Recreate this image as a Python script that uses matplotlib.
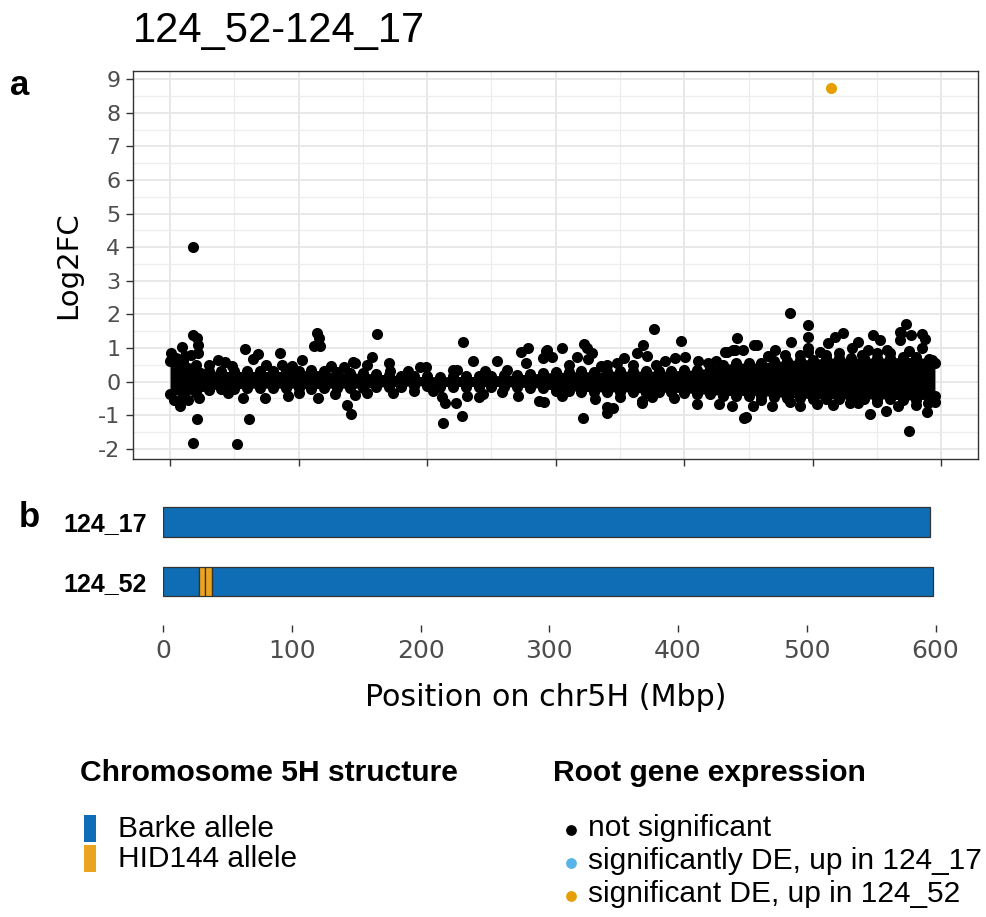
import numpy as np
import matplotlib
matplotlib.use("Agg")
import matplotlib.pyplot as plt
from matplotlib.patches import Rectangle

plt.rcParams['font.family'] = ['DejaVu Sans']

# ---------------------------------------------------------
# data
# ---------------------------------------------------------
# dense core of non-significant genes: upper / lower edge (point centres)
band_pos = [0, 10, 20, 30, 40, 50, 60, 70, 80, 90, 100, 110, 120, 130, 140,
            150, 160, 170, 180, 190, 200, 210, 220, 230, 240, 250, 260, 270,
            280, 290, 300, 310, 320, 330, 340, 350, 360, 370, 380, 390, 400,
            410, 420, 430, 440, 450, 460, 470, 480, 490, 500, 510, 520, 530,
            540, 550, 560, 570, 580, 590, 595]
band_hi = [0.6, 0.62, 0.5, 0.32, 0.3, 0.3, 0.3, 0.3, 0.3, 0.3, 0.3, 0.35,
           0.3, 0.28, 0.25, 0.25, 0.22, 0.2, 0.17, 0.15, 0.15, 0.14, 0.15,
           0.15, 0.15, 0.17, 0.18, 0.2, 0.22, 0.25, 0.27, 0.28, 0.3, 0.28,
           0.3, 0.32, 0.3, 0.32, 0.3, 0.32, 0.33, 0.35, 0.4, 0.5, 0.55, 0.55,
           0.55, 0.6, 0.62, 0.65, 0.65, 0.7, 0.7, 0.7, 0.7, 0.7, 0.7, 0.72,
           0.72, 0.68, 0.55]
band_lo = [-0.38, -0.42, -0.35, -0.25, -0.22, -0.22, -0.2, -0.2, -0.2, -0.2,
           -0.2, -0.22, -0.2, -0.2, -0.2, -0.2, -0.17, -0.15, -0.15, -0.13,
           -0.13, -0.15, -0.15, -0.15, -0.15, -0.15, -0.15, -0.17, -0.18,
           -0.2, -0.27, -0.27, -0.3, -0.3, -0.32, -0.3, -0.32, -0.35, -0.32,
           -0.32, -0.33, -0.37, -0.38, -0.42, -0.42, -0.42, -0.42, -0.45,
           -0.48, -0.48, -0.52, -0.52, -0.52, -0.52, -0.52, -0.52, -0.52,
           -0.55, -0.55, -0.52, -0.42]

# scattered non-significant genes outside the core
ns_pos = [18.1, 18.1, 20.7, 21.5, 9.1, 22.0, 0.8, 5, 12, 16,
          58.3, 68.2, 64.8, 85.6, 102.4, 114.1, 115.5, 112.3, 116.7, 37.6,
          42.8, 86.9, 142.6, 30, 48, 75, 95, 125, 135,
          7.8, 22.8, 20.7, 18.1, 51.9, 61.2, 57, 73.9, 92, 115.4,
          137.4, 140.8, 3.4, 14.3, 45, 100, 128,
          161.3, 143.9, 156.9, 152.9, 170.7, 171.2, 194.5, 199.1, 220.4, 223.5,
          228.2, 235.4, 254.1, 272.8, 278.7, 277, 292.5, 290.4, 185, 245, 262,
          144, 152.9, 173.7, 204.3, 211.3, 213.9, 212.1, 222.5, 226.9, 231,
          240, 243.5, 271, 287.3, 291, 190, 258,
          376.8, 397.5, 440.8, 305.2, 322.3, 324.6, 328.5, 316.4, 324.9, 368.2,
          363, 370.8, 353.5, 385, 392.8, 400.6, 410.9, 418.7, 433, 438.2,
          293, 296.9, 340.2, 348, 310, 335, 360, 378, 425,
          321.5, 340.2, 340.2, 344.7, 330.6, 366.9, 366.9, 409.7, 427.1, 437.4,
          446.8, 350, 375, 392, 305,
          482.3, 496.6, 496.6, 572.3, 568.7, 576.4, 584.7, 587.3, 523.4, 516.9,
          546.6, 552.3, 535.4, 512.1, 482.8, 454.3, 456.9, 446, 470.6, 496,
          496, 505.6, 530.3, 567.9, 592.5, 543, 560, 431.7, 439.5, 567.9,
          465, 478, 490, 520, 550, 575, 585, 510, 538, 558,
          448.1, 453.3, 468.5, 482.3, 490.1, 503.1, 516, 544.5, 557, 566.6,
          575.1, 588.6, 589.4, 529, 460, 535, 550, 580, 595]
ns_val = [4.01, 1.38, 1.29, 1.09, 1.02, 0.86, 0.84, 0.7, 0.75, 0.8,
          0.97, 0.82, 0.66, 0.86, 0.64, 1.43, 1.29, 1.06, 1.06, 0.64,
          0.59, 0.49, 0.59, 0.5, 0.45, 0.5, 0.45, 0.45, 0.42,
          -0.73, -0.48, -1.11, -1.84, -1.86, -1.13, -0.50, -0.48, -0.43, -0.50,
          -0.70, -0.97, -0.55, -0.55, -0.35, -0.35, -0.38,
          1.41, 0.56, 0.72, 0.49, 0.56, 0.31, 0.42, 0.42, 0.34, 0.34,
          1.17, 0.61, 0.62, 0.89, 0.99, 0.56, 0.92, 0.69, 0.3, 0.3, 0.35,
          -0.40, -0.33, -0.33, -0.27, -0.45, -0.65, -1.23, -0.63, -1.03, -0.43,
          -0.45, -0.37, -0.43, -0.57, -0.60, -0.28, -0.3,
          1.56, 1.21, 1.30, 1.01, 1.11, 0.99, 0.84, 0.72, 0.66, 1.09,
          0.84, 0.76, 0.71, 0.61, 0.69, 0.74, 0.61, 0.54, 0.89, 0.94,
          0.94, 0.74, 0.49, 0.54, 0.5, 0.45, 0.5, 0.5, 0.6,
          -1.08, -0.75, -0.95, -0.80, -0.52, -0.58, -0.65, -0.68, -0.67, -0.73,
          -1.08, -0.45, -0.45, -0.48, -0.42,
          2.03, 1.68, 1.33, 1.71, 1.43, 1.38, 1.41, 1.26, 1.43, 1.31,
          1.38, 1.24, 1.18, 1.15, 1.18, 1.09, 1.09, 0.94, 0.94, 0.99,
          0.89, 0.89, 0.99, 1.24, 0.64, 0.94, 0.84, 0.89, 0.94, 1.48,
          0.75, 0.8, 0.8, 0.85, 0.85, 0.9, 1.0, 0.8, 0.8, 0.95,
          -1.07, -0.73, -0.73, -0.60, -0.73, -0.67, -0.70, -0.98, -0.88, -0.73,
          -1.46, -0.90, -0.65, -0.65, -0.55, -0.65, -0.6, -0.7, -0.6]

# significant DE, up in 124_52
up52_pos = [514]
up52_val = [8.74]

# chromosome 5H structure (Mbp)
genotypes = ['124_17', '124_52']
seg_geno = ['124_17', '124_52', '124_52', '124_52', '124_52']
seg_start = [0, 0, 27.5, 32.1, 37.8]
seg_end = [595.7, 27.5, 32.1, 37.8, 598]
seg_allele = ['Barke', 'Barke', 'HID144', 'HID144', 'Barke']

allele_colors = {'Barke': '#0E6DB4', 'HID144': '#EBA41F'}
expr_colors = {'not significant': 'black',
               'significantly DE, up in 124_17': '#56B4E9',
               'significant DE, up in 124_52': '#E69F00'}

W, H = 987, 917
fig = plt.figure(figsize=(W / 100, H / 100), dpi=100)

def box(l, t, r, b):
    return [l / W, 1 - b / H, (r - l) / W, (b - t) / H]

PT = 64  # point size (pt^2)

# ---------------------------------------------------------
# a) Log2FC along chromosome
# ---------------------------------------------------------
ax = fig.add_axes(box(133, 70.7, 978, 459.3))
ax.set_xlim(-28.8, 628.5)
ax.set_ylim(-2.315, 9.25)
ax.set_xticks(range(0, 601, 100))
ax.set_xticks(range(50, 601, 100), minor=True)
ax.set_yticks(range(-2, 10))
ax.set_yticks(np.arange(-1.5, 9.1, 1.0), minor=True)
ax.set_xticklabels([])
ax.set_yticklabels([str(v) for v in range(-2, 10)])
ax.grid(which='major', color='#E6E6E6', lw=1.3, zorder=0)
ax.grid(which='minor', color='#EDEDED', lw=0.9, zorder=0)
ax.set_axisbelow(True)
ax.tick_params(which='major', length=5, width=1, color='#333333',
               labelsize=16, labelcolor='#4D4D4D', pad=4)
ax.tick_params(which='minor', length=0)
for sp in ax.spines.values():
    sp.set_color('#333333')
    sp.set_linewidth(1.0)

ax.fill_between(band_pos, band_lo, band_hi, color='black', lw=0, zorder=2)
ax.scatter(band_pos, band_hi, s=PT, color='black', lw=0, zorder=3)
ax.scatter(band_pos, band_lo, s=PT, color='black', lw=0, zorder=3)
ax.scatter(ns_pos, ns_val, s=PT, color='black', lw=0, zorder=3)
ax.scatter(up52_pos, up52_val, s=PT,
           color=expr_colors['significant DE, up in 124_52'], lw=0, zorder=4)

ax.set_ylabel('Log2FC', fontsize=21, color='black')
ax.yaxis.set_label_coords(-0.06, 0.5)

# ---------------------------------------------------------
# b) chromosome structure
# ---------------------------------------------------------
bx = fig.add_axes(box(163.3, 495, 978, 625))
bx.set_xlim(0, 633)
bx.set_ylim(-0.73, 1.45)
ypos = {'124_17': 1, '124_52': 0}
for g, s, e, a in zip(seg_geno, seg_start, seg_end, seg_allele):
    bx.barh(ypos[g], e - s, left=s, height=0.5, color=allele_colors[a],
            edgecolor='#333333', lw=0.9)
for sp in bx.spines.values():
    sp.set_visible(False)
bx.set_xticks(range(0, 601, 100))
bx.set_yticks([ypos[g] for g in genotypes])
bx.set_yticklabels(genotypes, fontsize=18, fontweight='bold',
                   family='Liberation Sans')
bx.tick_params(axis='x', length=5, width=1, color='#333333',
               labelsize=18, labelcolor='#4D4D4D', pad=5)
bx.tick_params(axis='y', length=0, pad=12)
bx.patch.set_visible(False)

# ---------------------------------------------------------
# titles, labels and legends (pixel coordinates overlay)
# ---------------------------------------------------------
ov = fig.add_axes([0, 0, 1, 1])
ov.set_xlim(0, W)
ov.set_ylim(H, 0)
ov.axis('off')

ov.text(133, 42, '124_52-124_17', fontsize=30, family='Liberation Sans',
        va='baseline', ha='left')
ov.text(10, 95, 'a', fontsize=25, fontweight='bold', family='Liberation Sans',
        va='baseline')
ov.text(19, 527, 'b', fontsize=25, fontweight='bold', family='Liberation Sans',
        va='baseline')
ov.text(546, 697, 'Position on chr5H (Mbp)', fontsize=21.7, ha='center',
        va='center')

ov.text(80, 773, 'Chromosome 5H structure', fontsize=21.6, fontweight='bold',
        family='Liberation Sans', va='center')
ov.text(553, 773, 'Root gene expression', fontsize=21.6, fontweight='bold',
        family='Liberation Sans', va='center')

leg_y = [829, 859]
for (name, col), yy in zip([('Barke allele', allele_colors['Barke']),
                            ('HID144 allele', allele_colors['HID144'])], leg_y):
    ov.add_patch(Rectangle((84, yy - 14), 12, 27, color=col, lw=0))
    ov.text(118, yy, name, fontsize=21.5, family='Liberation Sans', va='center')

dot_y = [830, 863, 896]
for (name, col), yy in zip(expr_colors.items(), dot_y):
    ov.scatter([571], [yy], s=60, color=col, lw=0)
    ov.text(588, yy - 2, name, fontsize=21.5, family='Liberation Sans',
            va='center')

fig.savefig('out.png', dpi=100)
